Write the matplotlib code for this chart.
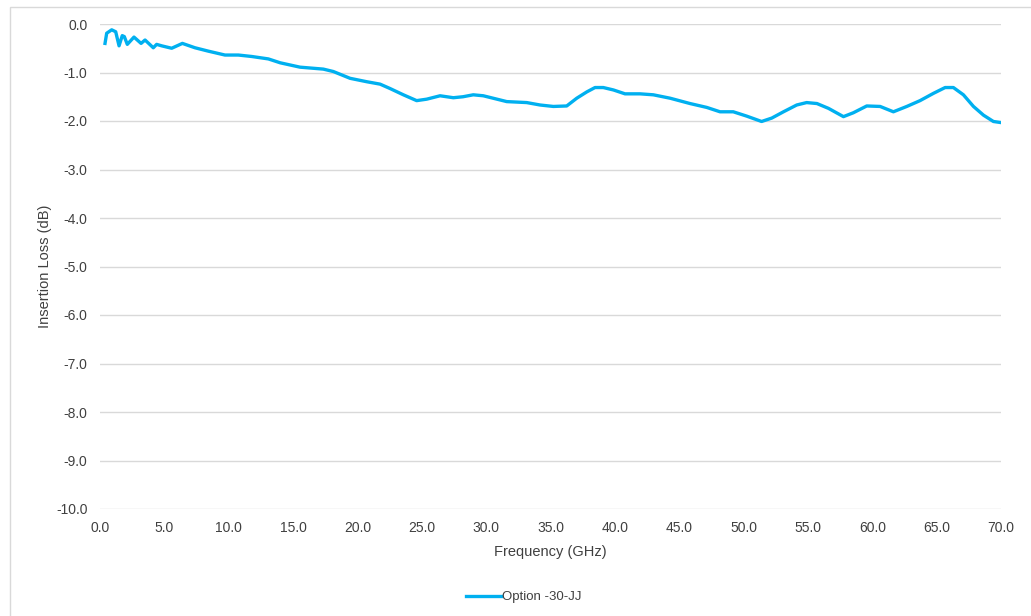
import matplotlib
matplotlib.use('Agg')
import matplotlib.pyplot as plt
from matplotlib.patches import Rectangle

# frequency (GHz) and insertion loss (dB)
freq = [0.39, 0.52, 0.91, 1.22, 1.48, 1.73, 1.89, 2.12, 2.64, 2.98, 3.19, 3.50, 4.14, 4.40,
        4.79, 5.57, 6.40, 7.38, 8.42, 9.71, 10.75, 11.79, 13.08, 14.0, 15.54, 17.35, 18.13,
        19.43, 20.72, 21.76, 22.53, 23.57, 24.6, 25.38, 26.42, 27.45, 28.2, 29.0, 29.78,
        31.6, 33.15, 34.19, 35.22, 36.26, 37.04, 37.82, 38.46, 39.1, 39.89, 40.79, 41.96,
        42.99, 44.29, 45.84, 47.14, 48.17, 49.2, 50.25, 51.4, 52.19, 53.1, 54.13, 54.9,
        55.7, 56.6, 57.76, 58.53, 59.57, 60.61, 61.64, 62.68, 63.71, 64.75, 65.66, 66.3,
        67.08, 67.86, 68.64, 69.41, 69.93]
loss = [-0.40, -0.19, -0.12, -0.16, -0.45, -0.24, -0.26, -0.42, -0.27, -0.35, -0.40, -0.33,
        -0.49, -0.42, -0.45, -0.50, -0.40, -0.49, -0.56, -0.64, -0.64, -0.67, -0.72, -0.80,
        -0.89, -0.93, -0.98, -1.12, -1.19, -1.24, -1.33, -1.46, -1.58, -1.55, -1.48, -1.52,
        -1.50, -1.46, -1.48, -1.60, -1.62, -1.67, -1.70, -1.69, -1.53, -1.40, -1.31, -1.31,
        -1.36, -1.44, -1.44, -1.46, -1.53, -1.64, -1.72, -1.81, -1.81, -1.90, -2.01, -1.94,
        -1.81, -1.67, -1.62, -1.64, -1.74, -1.91, -1.83, -1.69, -1.70, -1.81, -1.70, -1.58,
        -1.43, -1.31, -1.31, -1.46, -1.70, -1.88, -2.01, -2.03]
series_name = 'Option -30-JJ'

plt.rcParams['font.family'] = ['Liberation Sans', 'DejaVu Sans']

fig = plt.figure(figsize=(10.31, 6.16), dpi=100)
ax = fig.add_axes([100/1031, 1-509/616, 901/1031, 485/616])

# chart area border (Excel style)
fig.patches.append(Rectangle((10/1031, -0.1), 1.2, 1-7/616+0.1, transform=fig.transFigure,
                             fill=False, edgecolor='#D9D9D9', linewidth=1))

ax.plot(freq, loss, color='#00B0F0', linewidth=2.4, label=series_name)

ax.set_xlim(0, 70)
ax.set_ylim(-10, 0)
ax.set_xticks(range(0, 71, 5))
ax.set_yticks(range(-10, 1, 1))
ax.xaxis.set_major_formatter(plt.FormatStrFormatter('%.1f'))
ax.yaxis.set_major_formatter(plt.FormatStrFormatter('%.1f'))
ax.grid(axis='y', color='#D9D9D9', linewidth=1)
ax.set_axisbelow(True)
for s in ax.spines.values():
    s.set_visible(False)
ax.tick_params(length=0, labelsize=10, labelcolor='#404040')
ax.tick_params(axis='x', pad=9)
ax.tick_params(axis='y', pad=9)

ax.set_xlabel('Frequency (GHz)', fontsize=10.5, color='#404040', labelpad=7)
ax.set_ylabel('Insertion Loss (dB)', fontsize=10.5, color='#404040', labelpad=3)

fig.legend(loc='center', bbox_to_anchor=(524/1031, 1-597/616), frameon=False,
           fontsize=9.5, handlelength=2.6, handletextpad=0.1, labelcolor='#404040')

fig.savefig('out.png', dpi=100)
